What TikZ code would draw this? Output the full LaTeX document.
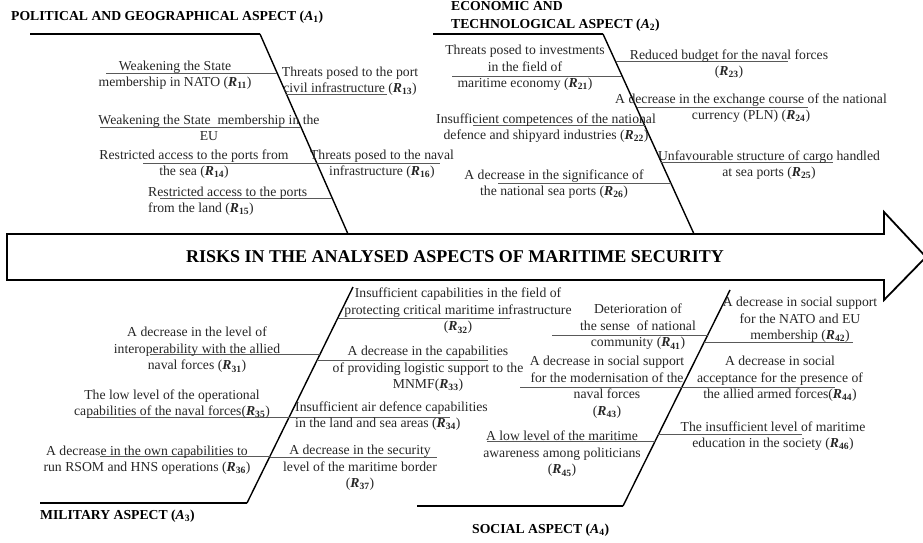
\documentclass[tikz,border=0pt]{standalone}
\usepackage{fontspec}
\setmainfont{Liberation Serif}
\usetikzlibrary{calc}
% risk and aspect labels: bold italic letter with a bold index
\newcommand\rk[1]{\textbf{\textit{R}\textsubscript{#1}}}
\newcommand\ak[1]{\textbf{\textit{A}\textsubscript{#1}}}
% a horizontal twig named #1 from x=#2 to x=#3 at height #4
\newcommand\twig[4]{%
  \coordinate (#1a) at (#2,#4);
  \coordinate (#1b) at (#3,#4);
  \draw[twigline] (#1a) -- (#1b);}

\begin{document}
\begin{tikzpicture}[x=1pt,y=-1pt,
  lbl/.style={align=center, inner sep=0pt, text=black!85,
    font=\fontsize{13.7}{16.5}\selectfont},
  ttl/.style={align=left, inner sep=0pt, anchor=west,
    font=\fontsize{13.7}{18}\selectfont\bfseries},
  spine/.style={line width=1.4pt},
  rib/.style={line width=2.2pt},
  twigline/.style={line width=0.6pt, draw=black!65},
  bigarrow/.style={line width=1.8pt, fill=white, line join=miter}]
\useasboundingbox (0,0) rectangle (923,543);

% ---- central arrow ----
\coordinate (ar1) at (7,234);
\coordinate (ar2) at (884,234);
\coordinate (ar3) at (884,212);
\coordinate (ar4) at (926,257);
\coordinate (ar5) at (884,300);
\coordinate (ar6) at (884,280);
\coordinate (ar7) at (7,280);
\draw[bigarrow] (ar1) -- (ar2) -- (ar3) -- (ar4) -- (ar5) -- (ar6) -- (ar7) -- cycle;
\node[inner sep=0pt, font=\fontsize{18}{20}\selectfont\bfseries] (risk) at (455,257)
  {RISKS IN THE ANALYSED ASPECTS OF MARITIME SECURITY};

% ---- aspect bones ----
\coordinate (a1l) at (30,34);  \coordinate (d1a) at (260,34);  \coordinate (d1b) at (348,234);
\coordinate (a2l) at (433,34); \coordinate (d2a) at (603,34);  \coordinate (d2b) at (694,234);
\coordinate (a3l) at (40,503); \coordinate (d3b) at (247,503); \coordinate (d3a) at (353,287);
\coordinate (a4l) at (417,506);\coordinate (d4b) at (623,506); \coordinate (d4a) at (730,290);
\draw[rib] (a1l) -- (d1a);  \draw[spine] (d1a) -- (d1b);
\draw[rib] (a2l) -- (d2a);  \draw[spine] (d2a) -- (d2b);
\draw[rib] (a3l) -- (d3b);  \draw[spine] (d3b) -- (d3a);
\draw[rib] (a4l) -- (d4b);  \draw[spine] (d4b) -- (d4a);

\node[ttl] (t1) at (11,17) {POLITICAL AND GEOGRAPHICAL ASPECT (\ak{1})};
\node[ttl] (t2) at (451,16) {ECONOMIC AND\\TECHNOLOGICAL ASPECT (\ak{2})};
\node[ttl] (t3) at (40,516) {MILITARY ASPECT (\ak{3})};
\node[ttl] (t4) at (472,530) {SOCIAL ASPECT (\ak{4})};

% ---- twigs of aspect 1 ----
\twig{w11}{106}{277}{73}
\twig{w13}{286}{387}{94}
\twig{w1e}{100}{301}{127}
\twig{w14}{143}{317}{163}
\twig{w16}{317}{440}{163}
\twig{w15}{160}{332}{198}
\node[lbl] (r11) at (175,75) {Weakening the State\\membership in NATO (\rk{11})};
\node[lbl] (r13) at (350,81) {Threats posed to the port\\civil infrastructure (\rk{13})};
\node[lbl] (r1e) at (209,128) {Weakening the State \ membership in the\\EU};
\node[lbl] (r14) at (194,164) {Restricted access to the ports from\\the sea (\rk{14})};
\node[lbl] (r16) at (382,164) {Threats posed to the naval\\infrastructure (\rk{16})};
\node[lbl, align=left, anchor=west] (r15) at (148,201) {Restricted access to the ports\\from the land (\rk{15})};

% ---- twigs of aspect 2 ----
\twig{w21}{452}{622}{76}
\twig{w23}{616}{788}{61}
\twig{w24}{637}{808}{107}
\twig{w22}{473}{645}{125}
\twig{w25}{661}{833}{162}
\twig{w26}{498}{671}{183}
\node[lbl] (r21) at (525,68) {Threats posed to investments\\in the field of\\maritime economy (\rk{21})};
\node[lbl] (r23) at (729,64) {Reduced budget for the naval forces\\(\rk{23})};
\node[lbl] (r24) at (751,108) {A decrease in the exchange course of the national\\currency (PLN) (\rk{24})};
\node[lbl] (r22) at (546,128) {Insufficient competences of the national\\defence and shipyard industries (\rk{22})};
\node[lbl] (r25) at (769,165) {Unfavourable structure of cargo handled\\at sea ports (\rk{25})};
\node[lbl] (r26) at (554,184) {A decrease in the significance of\\the national sea ports (\rk{26})};

% ---- twigs of aspect 3 ----
\twig{w32}{338}{510}{318}
\twig{w31}{150}{320}{354}
\twig{w33}{317}{488}{360}
\twig{w35}{87}{289}{417}
\twig{w34}{289}{450}{417}
\twig{w36}{100}{270}{456}
\twig{w37}{270}{437}{457}
\node[lbl] (r32) at (458,311) {Insufficient capabilities in the field of\\protecting critical maritime infrastructure\\(\rk{32})};
\node[lbl] (r31) at (197,350) {A decrease in the level of\\interoperability with the allied\\naval forces (\rk{31})};
\node[lbl] (r33) at (428,369) {A decrease in the capabilities\\of providing logistic support to the\\MNMF(\rk{33})};
\node[lbl] (r35) at (172,404) {The low level of the operational\\capabilities of the naval forces(\rk{35})};
\node[lbl, align=left, anchor=west] (r34) at (295,416) {Insufficient air defence capabilities\\in the land and sea areas (\rk{34})};
\node[lbl] (r36) at (147,460) {A decrease in the own capabilities to\\run RSOM and HNS operations (\rk{36})};
\node[lbl] (r37) at (360,468) {A decrease in the security\\level of the maritime border\\(\rk{37})};

% ---- twigs of aspect 4 ----
\twig{w41}{552}{708}{335}
\twig{w42}{704}{853}{342}
\twig{w43}{520}{682}{387}
\twig{w44}{682}{835}{387}
\twig{w45}{487}{655}{441}
\twig{w46}{658}{802}{434}
\node[lbl] (r41) at (638,327) {Deterioration of\\the sense \ of national\\community (\rk{41})};
\node[lbl] (r42) at (800,320) {A decrease in social support\\for the NATO and EU\\membership (\rk{42})};
\node[lbl] (r43) at (607,387) {A decrease in social support\\for the modernisation of the\\naval forces\\(\rk{43})};
\node[lbl] (r44) at (780,379) {A decrease in social\\acceptance for the presence of\\the allied armed forces(\rk{44})};
\node[lbl] (r45) at (562,454) {A low level of the maritime\\awareness among politicians\\(\rk{45})};
\node[lbl] (r46) at (773,436) {The insufficient level of maritime\\education in the society (\rk{46})};
\end{tikzpicture}
\end{document}
